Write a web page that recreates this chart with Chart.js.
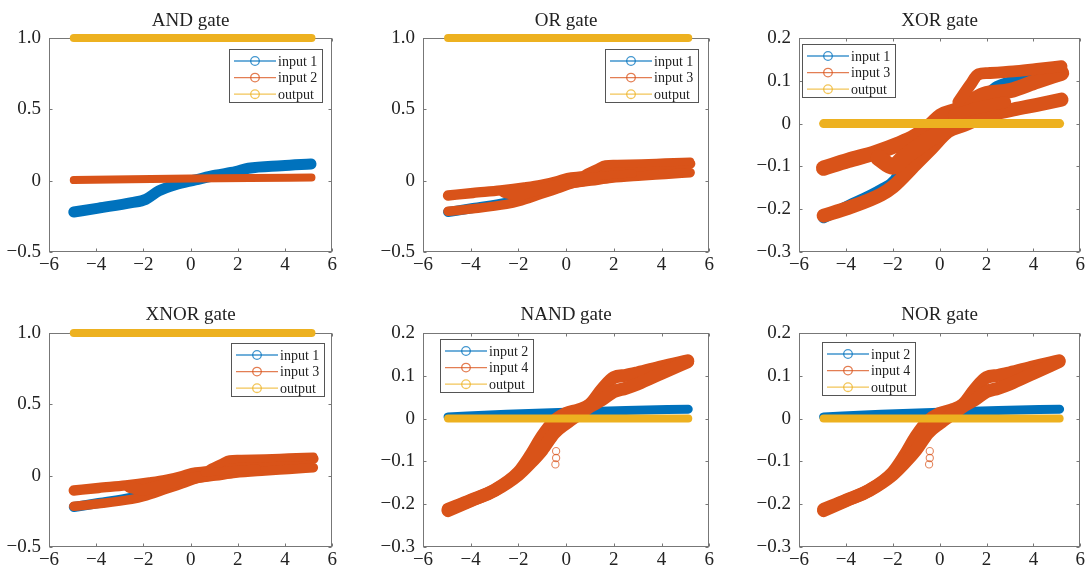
<!DOCTYPE html>
<html>
<head>
<meta charset="utf-8">
<script src="https://cdn.jsdelivr.net/npm/chart.js@4.4.0/dist/chart.umd.min.js"></script>
<style>
  html, body { margin: 0; padding: 0; background: #fff; overflow: hidden; }
  body { width: 1087px; height: 569px; position: relative; }
  .panel { position: absolute; }
  .panel canvas { display: block; }
</style>
</head>
<body>
<div class="panel" id="p0"><canvas id="c0"></canvas></div>
<div class="panel" id="p1"><canvas id="c1"></canvas></div>
<div class="panel" id="p2"><canvas id="c2"></canvas></div>
<div class="panel" id="p3"><canvas id="c3"></canvas></div>
<div class="panel" id="p4"><canvas id="c4"></canvas></div>
<div class="panel" id="p5"><canvas id="c5"></canvas></div>
<script>
// input 1 (same response in AND, OR, XOR, XNOR)
const in1X = [-4.95, -3.9, -2.5, -1.9, -1.35, -0.65, 0.2, 1.05, 1.9, 2.45, 3.85, 5.1];
const in1Y = [-0.22, -0.192, -0.154, -0.131, -0.072, -0.028, 0.005, 0.038, 0.063, 0.087, 0.105, 0.117];

// input 2 (AND, NAND, NOR)
const in2X = [-4.95, -2.5, 0, 2.5, 5.12];
const in2Y = [0.004, 0.010, 0.015, 0.019, 0.022];

// input 3 (OR, XOR, XNOR) - several overlapping runs
const in3aX = [-4.95, -3.9, -2.75, -1.75, -1.05, -0.35, 0.05, 0.75, 1.9, 3.0, 4.15, 5.2];
const in3aY = [-0.104, -0.086, -0.068, -0.048, -0.03, -0.002, 0.018, 0.032, 0.068, 0.077, 0.099, 0.118];
const in3bX = [-4.95, -3.9, -2.5, -2.0, -1.05, -0.35, 0.35, 1.05, 1.9, 3.15, 4.15, 5.2];
const in3bY = [-0.215, -0.197, -0.166, -0.148, -0.096, -0.057, -0.018, -0.003, 0.017, 0.033, 0.044, 0.056];
const in3cX = [-2.6, -2.0, -1.5, -1.0, -0.4, 0.3, 1.0];
const in3cY = [-0.08, -0.1, -0.078, -0.058, -0.035, -0.012, 0.01];
const in3dX = [0.8, 1.3, 1.65, 2.05, 3.15, 4.15, 5.2];
const in3dY = [0.05, 0.09, 0.115, 0.118, 0.122, 0.128, 0.134];
const in3eX = [0.6, 1.5, 2.3, 2.8];
const in3eY = [0.02, 0.035, 0.045, 0.05];

// input 4 (NAND, NOR)
const in4X = [-4.95, -4, -3, -2, -1.5, -1, -0.5, 0, 0.5, 1, 1.5, 2, 2.5, 3, 4, 5.1];
const in4UpY = [-0.212, -0.191, -0.167, -0.126, -0.087, -0.041, -0.006, 0.012, 0.020, 0.033, 0.068, 0.096, 0.101, 0.107, 0.121, 0.135];
const in4LoY = [-0.215, -0.192, -0.168, -0.131, -0.104, -0.073, -0.034, -0.011, 0.009, 0.028, 0.044, 0.063, 0.071, 0.081, 0.106, 0.133];
const in4OddX = [-0.42, -0.42, -0.45];
const in4OddY = [-0.076, -0.092, -0.107];

// outputs
const outX = [-4.95, 5.12];
const outOneY = [1, 1];
const outZeroY = [0, 0];

// ticks
const xTicks = [-6, -4, -2, 0, 2, 4, 6];
const xTickLabels = ['\u22126', '\u22124', '\u22122', '0', '2', '4', '6'];
const yTicksWide = [-0.5, 0, 0.5, 1];
const yTickLabelsWide = ['\u22120.5', '0', '0.5', '1.0'];
const yTicksNarrow = [-0.3, -0.2, -0.1, 0, 0.1, 0.2];
const yTickLabelsNarrow = ['\u22120.3', '\u22120.2', '\u22120.1', '0', '0.1', '0.2'];

const BLUE = '#0072BD', RED = '#D95319', YELLOW = '#EDB120';
const FONT = "'Liberation Serif', 'Times New Roman', serif";

const in3Strands = [[in3aX, in3aY, 1.1], [in3bX, in3bY], [in3cX, in3cY, 1.2], [in3dX, in3dY, 0.85], [in3eX, in3eY, 0.85]];
const in4Strands = [[in4X, in4UpY], [in4X, in4LoY]];

const wide = { min: -0.5, max: 1, ticks: yTicksWide, labels: yTickLabelsWide };
const narrow = { min: -0.3, max: 0.2, ticks: yTicksNarrow, labels: yTickLabelsNarrow };

const cols = [
  { left: 0, plotW: 284, rightPad: 6 },
  { left: 374, plotW: 287, rightPad: 6 },
  { left: 750, plotW: 284, rightPad: 4 }
];
const rows = [
  { top: 0, titlePad: { top: 10, bottom: 5.2 } },
  { top: 295, titlePad: { top: 8.5, bottom: 6.7 } }
];

const panels = [
  { title: 'AND gate', row: 0, col: 0, y: wide, legend: { side: 'right', dx: 10, dy: 11 },
    series: [
      { label: 'input 1', color: BLUE, width: 11, strands: [[in1X, in1Y]] },
      { label: 'input 2', color: RED, width: 8, strands: [[in2X, in2Y]] },
      { label: 'output', color: YELLOW, width: 8, strands: [[outX, outOneY]] }
    ] },
  { title: 'OR gate', row: 0, col: 1, y: wide, legend: { side: 'right', dx: 11, dy: 11 },
    series: [
      { label: 'input 1', color: BLUE, width: 10, strands: [[in1X, in1Y]] },
      { label: 'input 3', color: RED, width: 9.5, strands: in3Strands },
      { label: 'output', color: YELLOW, width: 8, strands: [[outX, outOneY]] }
    ] },
  { title: 'XOR gate', row: 0, col: 2, y: narrow, legend: { side: 'left', dx: 3, dy: 6 },
    series: [
      { label: 'input 1', color: BLUE, width: 11, strands: [[in1X, in1Y]] },
      { label: 'input 3', color: RED, width: 14, strands: in3Strands },
      { label: 'output', color: YELLOW, width: 9, strands: [[outX, outZeroY]] }
    ] },
  { title: 'XNOR gate', row: 1, col: 0, y: wide, legend: { side: 'right', dx: 8, dy: 10 },
    series: [
      { label: 'input 1', color: BLUE, width: 10, strands: [[in1X, in1Y]] },
      { label: 'input 3', color: RED, width: 9.5, strands: in3Strands },
      { label: 'output', color: YELLOW, width: 8, strands: [[outX, outOneY]] }
    ] },
  { title: 'NAND gate', row: 1, col: 1, y: narrow, legend: { side: 'left', dx: 17, dy: 6 },
    series: [
      { label: 'input 2', color: BLUE, width: 9, strands: [[in2X, in2Y]] },
      { label: 'input 4', color: RED, width: 13, strands: in4Strands, odd: [in4OddX, in4OddY] },
      { label: 'output', color: YELLOW, width: 8, strands: [[outX, outZeroY]] }
    ] },
  { title: 'NOR gate', row: 1, col: 2, y: narrow, legend: { side: 'left', dx: 23, dy: 9 },
    series: [
      { label: 'input 2', color: BLUE, width: 9, strands: [[in2X, in2Y]] },
      { label: 'input 4', color: RED, width: 13, strands: in4Strands, odd: [in4OddX, in4OddY] },
      { label: 'output', color: YELLOW, width: 8, strands: [[outX, outZeroY]] }
    ] }
];

// box round the axes with inward ticks on all four sides
const axesBox = {
  id: 'axesBox',
  beforeDatasetsDraw(chart) {
    const { ctx, chartArea: a, scales } = chart;
    ctx.save();
    ctx.strokeStyle = '#777';
    ctx.lineWidth = 1;
    const l = Math.round(a.left) + 0.5, r = Math.round(a.right) - 0.5;
    const t = Math.round(a.top) + 0.5, b = Math.round(a.bottom) - 0.5;
    ctx.strokeRect(l, t, r - l, b - t);
    ctx.beginPath();
    scales.x.ticks.forEach(tk => {
      const px = Math.round(scales.x.getPixelForValue(tk.value)) + 0.5;
      ctx.moveTo(px, b); ctx.lineTo(px, b - 3);
      ctx.moveTo(px, t); ctx.lineTo(px, t + 3);
    });
    scales.y.ticks.forEach(tk => {
      const py = Math.round(scales.y.getPixelForValue(tk.value)) + 0.5;
      ctx.moveTo(l, py); ctx.lineTo(l + 3, py);
      ctx.moveTo(r, py); ctx.lineTo(r - 3, py);
    });
    ctx.stroke();
    ctx.restore();
  }
};

// matlab style legend box inside the plot
const boxLegend = {
  id: 'boxLegend',
  afterDatasetsDraw(chart, args, opts) {
    const { ctx, chartArea: a } = chart;
    const items = chart.data.datasets.filter(d => d.inLegend);
    const w = 93, h = 53;
    const x0 = Math.round(opts.side === 'left' ? a.left + opts.dx : a.right - opts.dx - w);
    const y0 = Math.round(a.top + opts.dy);
    ctx.save();
    ctx.fillStyle = '#fff';
    ctx.fillRect(x0, y0, w, h);
    ctx.strokeStyle = '#555';
    ctx.lineWidth = 1;
    ctx.strokeRect(x0 + 0.5, y0 + 0.5, w, h);
    ctx.font = '14px ' + FONT;
    ctx.textBaseline = 'middle';
    items.forEach((d, i) => {
      const cy = y0 + 12 + i * 16.6;
      ctx.globalAlpha = 0.75;
      ctx.strokeStyle = d.borderColor;
      ctx.lineWidth = 1.3;
      ctx.beginPath(); ctx.moveTo(x0 + 5, cy); ctx.lineTo(x0 + 47, cy); ctx.stroke();
      ctx.beginPath(); ctx.arc(x0 + 26, cy, 4.3, 0, Math.PI * 2); ctx.stroke();
      ctx.globalAlpha = 1;
      ctx.fillStyle = '#222';
      ctx.fillText(d.label, x0 + 49, cy + 1);
    });
    ctx.restore();
  }
};

// later series go on top, as in the original plot order
function buildDatasets(p) {
  const ds = [];
  p.series.forEach(s => {
    s.strands.forEach((st, k) => {
      ds.push({
        label: s.label,
        inLegend: k === 0,
        data: st[0].map((x, i) => ({ x: x, y: st[1][i] })),
        showLine: true,
        borderColor: s.color,
        backgroundColor: s.color,
        borderWidth: s.width * (st[2] || 1),
        borderCapStyle: 'round',
        borderJoinStyle: 'round',
        cubicInterpolationMode: 'monotone',
        pointRadius: 0,
        clip: false
      });
    });
    if (s.odd) {
      ds.push({
        label: s.label,
        inLegend: false,
        data: s.odd[0].map((x, i) => ({ x: x, y: s.odd[1][i] })),
        showLine: false,
        pointRadius: 3.6,
        pointBorderWidth: 1.1,
        borderColor: 'rgba(217,83,25,0.7)',
        pointBorderColor: 'rgba(217,83,25,0.7)',
        pointBackgroundColor: 'rgba(0,0,0,0)',
        backgroundColor: 'rgba(0,0,0,0)',
        clip: false
      });
    }
  });
  ds.forEach((d, i) => { d.order = -i; });
  return ds;
}

panels.forEach((p, n) => {
  const col = cols[p.col], row = rows[p.row];
  const width = 49 + col.plotW + col.rightPad;
  const height = 38 + 214 + 22;
  const box = document.getElementById('p' + n);
  box.style.left = col.left + 'px';
  box.style.top = row.top + 'px';
  const canvas = document.getElementById('c' + n);
  canvas.width = width;
  canvas.height = height;
  canvas.style.width = width + 'px';
  canvas.style.height = height + 'px';

  new Chart(canvas, {
    type: 'scatter',
    data: { datasets: buildDatasets(p) },
    options: {
      responsive: false,
      animation: false,
      events: [],
      layout: { padding: { left: 0, right: col.rightPad, top: 0, bottom: 0 } },
      plugins: {
        legend: { display: false },
        tooltip: { enabled: false },
        title: {
          display: true,
          text: p.title,
          fullSize: false,
          color: '#222',
          font: { family: FONT, size: 19, weight: 'normal' },
          padding: row.titlePad
        },
        boxLegend: p.legend
      },
      scales: {
        x: {
          type: 'linear',
          min: -6,
          max: 6,
          afterBuildTicks: s => { s.ticks = xTicks.map(v => ({ value: v })); },
          afterFit: s => { s.height = 22; },
          grid: { display: false, drawTicks: false },
          border: { display: false },
          ticks: {
            padding: 2,
            color: '#222',
            maxRotation: 0,
            autoSkip: false,
            font: { family: FONT, size: 19 },
            callback: (v, i) => xTickLabels[i]
          }
        },
        y: {
          type: 'linear',
          min: p.y.min,
          max: p.y.max,
          afterBuildTicks: s => { s.ticks = p.y.ticks.map(v => ({ value: v })); },
          afterFit: s => { s.width = 49; },
          grid: { display: false, drawTicks: false },
          border: { display: false },
          ticks: {
            padding: 8,
            color: '#222',
            autoSkip: false,
            font: { family: FONT, size: 19 },
            callback: (v, i) => p.y.labels[i]
          }
        }
      }
    },
    plugins: [axesBox, boxLegend]
  });
});
</script>
</body>
</html>
